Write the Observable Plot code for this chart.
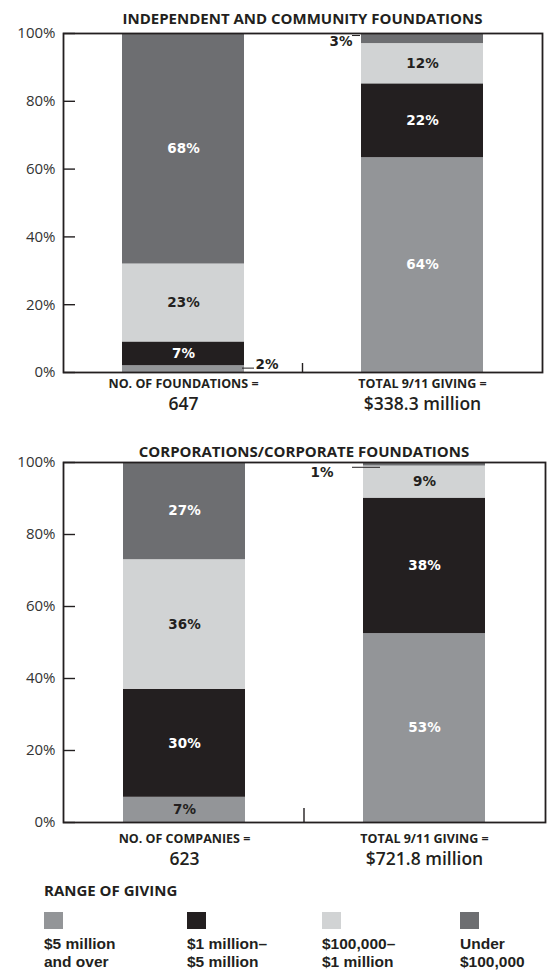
<!DOCTYPE html>
<html><head><meta charset="utf-8">
<script src="https://cdn.jsdelivr.net/npm/d3@7"></script>
<script src="https://cdn.jsdelivr.net/npm/@observablehq/plot@0.6"></script>
<style>
body{margin:0;background:#fff;}
#root{position:relative;width:551px;height:971px;overflow:hidden;font-family:"Open Sans",sans-serif;color:#231f20;}
#root svg{position:absolute;left:0;}
.title{position:absolute;height:20px;line-height:20px;text-align:center;font-weight:700;font-size:15px;white-space:nowrap;}
.lhead{position:absolute;left:44px;top:880px;height:20px;line-height:20px;font-weight:700;font-size:15px;white-space:nowrap;}
.sw{position:absolute;width:19px;height:17px;top:912px;}
.ltxt{position:absolute;top:935px;line-height:18px;font-family:"Liberation Sans",Arial,sans-serif;font-weight:700;font-size:15.5px;white-space:pre-line;}
</style></head><body><div id="root"></div>
<script>
// ---- data ----
const ranges = ["$5 million\nand over", "$1 million–\n$5 million", "$100,000–\n$1 million", "Under\n$100,000"];
const measures = ["count", "giving"];
const yTicks = [0, 20, 40, 60, 80, 100];

const fdnTitle = "INDEPENDENT AND COMMUNITY FOUNDATIONS";
const fdnAxisLabels = ["NO. OF FOUNDATIONS =", "TOTAL 9/11 GIVING ="];
const fdnAxisValues = ["647", "$338.3 million"];
const fdnCount = [2, 7, 23, 68];
const fdnGiving = [64, 22, 12, 3];

const corpTitle = "CORPORATIONS/CORPORATE FOUNDATIONS";
const corpAxisLabels = ["NO. OF COMPANIES =", "TOTAL 9/11 GIVING ="];
const corpAxisValues = ["623", "$721.8 million"];
const corpCount = [7, 30, 36, 27];
const corpGiving = [53, 38, 9, 1];

// ---- styles ----
const rangeColors = ["#939598", "#231f20", "#d1d3d4", "#6d6e71"];
const ink = "#231f20";
const labelFont = "DejaVu Sans";
const legendX = [44, 187, 322, 460];

function table(count, giving) {
  return [count, giving].flatMap((vals, j) =>
    vals.map((v, i) => ({measure: measures[j], range: ranges[i], value: v})));
}

function chart(cfg) {
  const data = table(cfg.count, cfg.giving);
  const st = (extra) => Plot.stackY({x: "measure", y: "value", z: "range", offset: "normalize", ...extra});
  const darkLabel = (d) => d.range === ranges[2] || (d.range === ranges[0] && d.value < 10);
  const small = (m, extra) => Plot.filter((d) => d.value < 5 && d.measure === m, st(extra));
  const lab = {fontFamily: labelFont, fontWeight: "bold", fontSize: 13.5};
  const divider = (index, scales, values, dims) => {
    let xm = (dims.marginLeft + dims.width - dims.marginRight) / 2;
    try {
      const x = scales.x, bw = x.bandwidth();
      xm = (x(measures[0]) + bw + x(measures[1])) / 2;
    } catch (e) {}
    const yb = dims.height - dims.marginBottom;
    return d3.create("svg:line").attr("x1", xm).attr("x2", xm)
      .attr("y1", yb - cfg.dividerLen).attr("y2", yb)
      .attr("stroke", ink).attr("stroke-width", 1.4).node();
  };
  const sm = cfg.small;
  return Plot.plot({
    width: 551, height: cfg.height,
    marginTop: cfg.marginTop, marginBottom: cfg.marginBottom, marginLeft: 63, marginRight: cfg.marginRight,
    style: {fontFamily: "Open Sans", fontSize: "15px", background: "transparent", overflow: "visible"},
    x: {domain: measures, axis: null, paddingInner: 0.49, paddingOuter: 0.246},
    y: {domain: [0, 1], axis: null},
    color: {domain: ranges, range: rangeColors},
    marks: [
      Plot.barY(data, st({fill: "range"})),
      Plot.text(data, st({text: (d) => d.value >= 5 && !darkLabel(d) ? d.value + "%" : "", fill: "white", ...lab})),
      Plot.text(data, st({text: (d) => d.value >= 5 && darkLabel(d) ? d.value + "%" : "", fill: ink, ...lab})),
      // small-segment callouts
      Plot.text(data, small("count", {text: (d) => d.value + "%", fill: ink, textAnchor: "start", dx: sm.count.tdx, dy: sm.count.tdy, ...lab})),
      Plot.ruleY(data, small("count", {x1: "measure", x2: "measure", stroke: ink, strokeWidth: 1, insetLeft: sm.count.li, dx: sm.count.ldx, dy: sm.count.ldy})),
      Plot.text(data, small("giving", {text: (d) => d.value + "%", fill: ink, textAnchor: "end", dx: sm.giving.tdx, dy: sm.giving.tdy, ...lab})),
      Plot.ruleY(data, small("giving", {x1: "measure", x2: "measure", stroke: ink, strokeWidth: 1, insetRight: sm.giving.ri, dx: sm.giving.ldx, dy: sm.giving.ldy})),
      Plot.frame({stroke: ink, strokeWidth: 1.8}),
      Plot.axisY({ticks: yTicks.map((t) => t / 100), tickFormat: (d) => Math.round(d * 100) + "%", tickSize: 0, tickPadding: 8, fontSize: 15, color: "#333", label: null}),
      Plot.axisY({ticks: yTicks.map((t) => t / 100), tickSize: 12, dx: 12, text: null, stroke: ink, strokeWidth: 1.4, label: null}),
      divider,
      Plot.text(measures, {x: (d) => d, text: (d, i) => cfg.axisLabels[i], frameAnchor: "bottom", lineAnchor: "middle", dy: cfg.l1dy, fontSize: 12.5, fontWeight: "bold", fill: ink}),
      Plot.text(measures, {x: (d) => d, text: (d, i) => cfg.axisValues[i], frameAnchor: "bottom", lineAnchor: "middle", dy: cfg.l2dy, fontSize: 17.5, fontWeight: 600, fill: ink})
    ]
  });
}

const root = document.getElementById("root");

const c1 = chart({count: fdnCount, giving: fdnGiving, axisLabels: fdnAxisLabels, axisValues: fdnAxisValues,
  height: 436, marginTop: 33, marginBottom: 64, marginRight: 9, dividerLen: 9, l1dy: 11.5, l2dy: 31.5,
  small: {count: {tdx: 72, tdy: -4, li: 110, ldx: 10, ldy: -1}, giving: {tdx: -70, tdy: 3, ri: 114, ldx: -9, ldy: -3}}});
c1.style.top = "0px";
root.appendChild(c1);

const c2 = chart({count: corpCount, giving: corpGiving, axisLabels: corpAxisLabels, axisValues: corpAxisValues,
  height: 440, marginTop: 26, marginBottom: 54, marginRight: 6, dividerLen: 14, l1dy: 16.5, l2dy: 37,
  small: {count: {tdx: 72, tdy: -4, li: 110, ldx: 10, ldy: -1}, giving: {tdx: -91, tdy: 8, ri: 94, ldx: -11, ldy: 3}}});
c2.style.top = "436px";
root.appendChild(c2);

function addTitle(text, top, width) {
  const t = document.createElement("div");
  t.className = "title";
  t.style.top = top + "px"; t.style.left = "63px"; t.style.width = width + "px";
  t.textContent = text;
  root.appendChild(t);
}
addTitle(fdnTitle, 8, 479);
addTitle(corpTitle, 441, 482);

const head = document.createElement("div");
head.className = "lhead"; head.textContent = "RANGE OF GIVING";
root.appendChild(head);
ranges.forEach((r, i) => {
  const s = document.createElement("div");
  s.className = "sw"; s.style.left = legendX[i] + "px"; s.style.background = rangeColors[i];
  root.appendChild(s);
  const t = document.createElement("div");
  t.className = "ltxt"; t.style.left = legendX[i] + "px"; t.textContent = r;
  root.appendChild(t);
});
</script></body></html>
